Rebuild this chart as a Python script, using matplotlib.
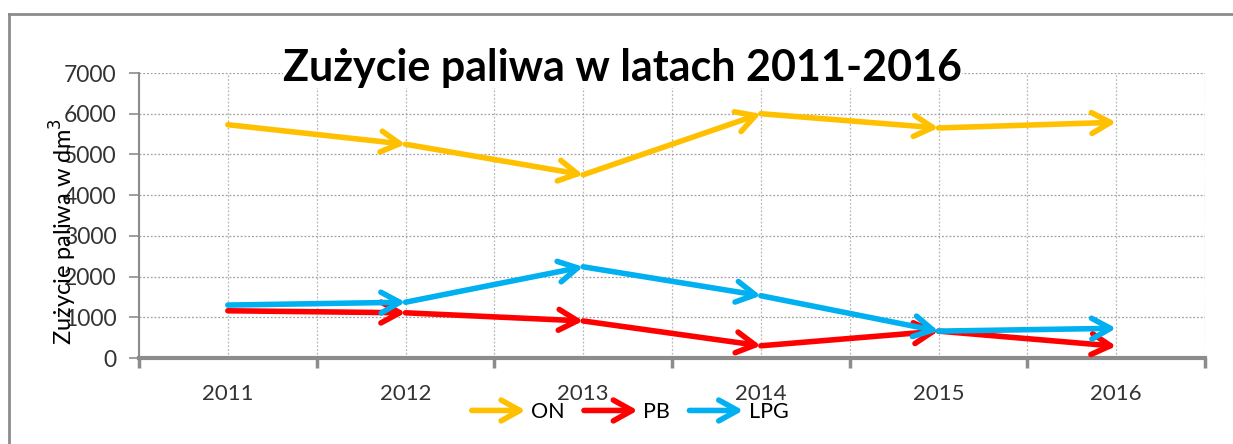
import matplotlib
matplotlib.use("Agg")
import matplotlib.pyplot as plt
from matplotlib.patches import FancyArrowPatch
from matplotlib.legend_handler import HandlerBase
from matplotlib.lines import Line2D

years = ["2011", "2012", "2013", "2014", "2015", "2016"]
on_vals = [5730, 5250, 4500, 6000, 5650, 5790]
pb_vals = [1160, 1110, 910, 300, 660, 290]
lpg_vals = [1300, 1370, 2240, 1530, 660, 730]
series_names = ["ON", "PB", "LPG"]
series_colors = ["#FFC000", "#FF0000", "#00B0F0"]
yticks = [0, 1000, 2000, 3000, 4000, 5000, 6000, 7000]

plt.rcParams["font.family"] = ["Lato", "DejaVu Sans"]

ARROW = "->,head_length=0.9,head_width=0.5"


class ArrowHandler(HandlerBase):
    def create_artists(self, legend, orig_handle, xdescent, ydescent,
                       width, height, fontsize, trans):
        y = height / 2 - ydescent
        a = FancyArrowPatch((-xdescent, y), (width - xdescent, y),
                            arrowstyle=ARROW, mutation_scale=15, lw=4.0,
                            color=orig_handle.get_color(), transform=trans,
                            shrinkA=0, shrinkB=0, capstyle="round",
                            joinstyle="round")
        return [a]


fig = plt.figure(figsize=(12.33, 4.44), dpi=100)
ax = fig.add_axes([139 / 1233, 1 - 358 / 444, (1205 - 139) / 1233, (358 - 73) / 444])

# chart border: only top and left edges are inside the picture
bx, by = 9 / 1233, 1 - 14 / 444
fig.add_artist(Line2D([bx, 1.0], [by, by], transform=fig.transFigure,
                      color="#8c8c8c", lw=2))
fig.add_artist(Line2D([bx, bx], [0, by], transform=fig.transFigure,
                      color="#8c8c8c", lw=2))

x = list(range(len(years)))
for vals, col in zip([on_vals, pb_vals, lpg_vals], series_colors):
    for i in range(len(vals) - 1):
        ax.annotate("", xy=(x[i + 1], vals[i + 1]), xytext=(x[i], vals[i]),
                    arrowprops=dict(arrowstyle=ARROW, mutation_scale=15,
                                    lw=4.0, color=col, shrinkA=0, shrinkB=0,
                                    capstyle="round", joinstyle="round"))

ax.set_xlim(-0.5, len(years) - 0.5)
ax.set_ylim(0, 7000)
ax.set_yticks(yticks)
ax.set_yticklabels([str(v) for v in yticks], fontsize=16.5, color="#333333")
ax.set_xticks([i - 0.5 for i in range(len(years) + 1)])
ax.set_xticklabels([""] * (len(years) + 1))
ax.set_xticks(x, minor=True)
ax.set_xticklabels(years, minor=True, fontsize=16, color="#333333")
ax.tick_params(axis="x", which="major", length=7, width=2.5, color="#8c8c8c")
ax.tick_params(axis="x", which="minor", length=0, pad=19)
ax.tick_params(axis="y", length=7, width=1.2, color="#8c8c8c", pad=9)

ax.grid(True, which="both", axis="x", linestyle=(0, (1.5, 1.5)), color="#b8b8b8", lw=0.9)
ax.grid(True, which="major", axis="y", linestyle=(0, (1.5, 1.5)), color="#a0a0a0", lw=0.9)
ax.set_axisbelow(True)
for s in ["top", "right"]:
    ax.spines[s].set_visible(False)
ax.spines["left"].set_color("#8c8c8c")
ax.spines["left"].set_linewidth(1.5)
ax.spines["bottom"].set_color("#8c8c8c")
ax.spines["bottom"].set_linewidth(3)

ax.set_ylabel("Zużycie paliwa w dm$^3$", fontsize=17, color="black")
ax.yaxis.set_label_coords(-0.056, 0.442)

fig.text(0.505, 1 - 68 / 444, "Zużycie paliwa w latach 2011-2016",
         ha="center", va="center", fontsize=31, fontweight="bold",
         bbox=dict(facecolor="white", edgecolor="none", pad=0))

handles = [Line2D([], [], color=c) for c in series_colors]
fig.legend(handles, series_names, loc="center", ncol=3, frameon=False,
           bbox_to_anchor=(0.511, 1 - 412 / 444), fontsize=15.5,
           handler_map={Line2D: ArrowHandler()}, handlelength=2.5,
           handletextpad=0.25, columnspacing=0.9)

fig.savefig("out.png", dpi=100)
